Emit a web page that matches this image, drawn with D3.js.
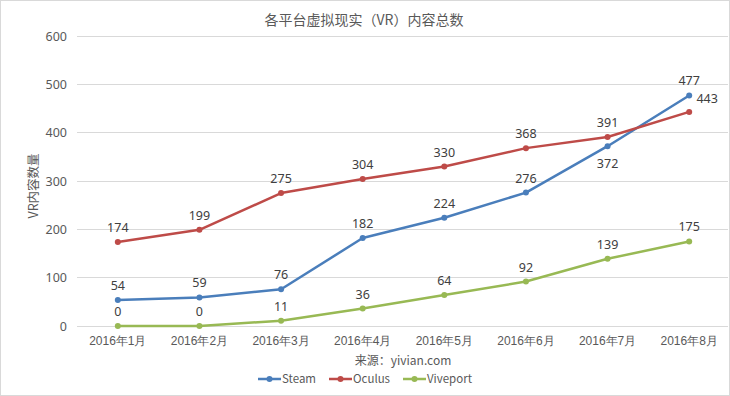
<!DOCTYPE html>
<html><head><meta charset="utf-8">
<script src="https://cdn.jsdelivr.net/npm/d3@7"></script>
<style>body{margin:0;background:#fff;}svg{display:block;font-family:"Noto Sans CJK SC","Noto Sans",sans-serif;}</style>
</head><body><svg id="c" width="730" height="396"></svg>
<script>
const categories = ["2016年1月","2016年2月","2016年3月","2016年4月","2016年5月","2016年6月","2016年7月","2016年8月"];
const steam = [54,59,76,182,224,276,372,477];
const oculus = [174,199,275,304,330,368,391,443];
const viveport = [0,0,11,36,64,92,139,175];
const yTicks = [0,100,200,300,400,500,600];
const seriesNames = ["Steam","Oculus","Viveport"];
const colors = ["#4a7ebb","#be4b48","#98b954"];

const svg = d3.select("#c");
const W=730,H=396;
svg.append("rect").attr("x",0.5).attr("y",0.5).attr("width",W-1).attr("height",H-1).attr("fill","#fff").attr("stroke","#d9d9d9");

const x = d3.scaleBand().domain(categories).range([77,730]);
const y = d3.scaleLinear().domain([0,600]).range([326,36]);
const textColor="#595959";

// gridlines
svg.append("g").selectAll("line").data(yTicks).join("line")
  .attr("x1",77).attr("x2",728).attr("y1",d=>y(d)).attr("y2",d=>y(d))
  .attr("stroke","#d9d9d9").attr("stroke-width",1).attr("shape-rendering","crispEdges");

// y axis labels
const yAxis = d3.axisLeft(y).tickValues(yTicks).tickSize(0).tickPadding(0);
const ga = svg.append("g").attr("transform","translate(67,0)").call(yAxis);
ga.select(".domain").remove();
ga.selectAll("text").attr("fill",textColor).style("font-size","12.5px").style("font-family","'Noto Sans','DejaVu Sans',sans-serif");

// x axis labels
const xAxis = d3.axisBottom(x).tickSize(0).tickPadding(0);
const gx = svg.append("g").attr("transform","translate(0,336)").call(xAxis);
gx.select(".domain").remove();
gx.selectAll("text").attr("fill",textColor).style("font-size","12px");

// title
svg.append("text").attr("x",364).attr("y",25).attr("text-anchor","middle").attr("fill",textColor).style("font-size","14px").text("各平台虚拟现实（VR）内容总数");

// y title
svg.append("text").attr("transform","translate(38,186) rotate(-90)").attr("text-anchor","middle").attr("fill",textColor).style("font-size","12.5px").text("VR内容数量");

// source
svg.append("text").attr("x",403).attr("y",365).attr("text-anchor","middle").attr("fill",textColor).style("font-size","12px").text("来源：yivian.com");

const allSeries=[steam,oculus,viveport];
const line = d3.line().x((d,i)=>x(categories[i])+x.bandwidth()/2).y(d=>y(d));
allSeries.forEach((s,si)=>{
  const g=svg.append("g");
  g.append("path").datum(s).attr("d",line).attr("fill","none").attr("stroke",colors[si]).attr("stroke-width",2.5).attr("stroke-linejoin","round");
  g.selectAll("circle").data(s).join("circle")
    .attr("cx",(d,i)=>x(categories[i])+x.bandwidth()/2).attr("cy",d=>y(d)).attr("r",3).attr("fill",colors[si]);
});

// data labels
function lab(si,i,dx,dy){
  const s=allSeries[si];
  svg.append("text").attr("x",x(categories[i])+x.bandwidth()/2+dx).attr("y",y(s[i])+dy)
    .attr("text-anchor","middle").attr("fill","#404040").style("font-size","12.5px").style("font-family","'Noto Sans','DejaVu Sans',sans-serif").text(s[i]);
}
for(let i=0;i<8;i++){
  if(i===6) lab(0,i,0,22); else lab(0,i,0,-10);
  if(i===7) lab(1,i,18,-9); else lab(1,i,0,-10);
  lab(2,i,0,-10);
}

// legend
const lg=svg.append("g");
const legendX=[258,329,403];
seriesNames.forEach((n,i)=>{
  const gx=legendX[i];
  lg.append("line").attr("x1",gx).attr("x2",gx+23).attr("y1",379).attr("y2",379).attr("stroke",colors[i]).attr("stroke-width",2.5);
  lg.append("circle").attr("cx",gx+11.5).attr("cy",379).attr("r",3).attr("fill",colors[i]);
  lg.append("text").attr("x",gx+24).attr("y",383).attr("fill",textColor).style("font-size","11.5px").text(n);
});
</script></body></html>
